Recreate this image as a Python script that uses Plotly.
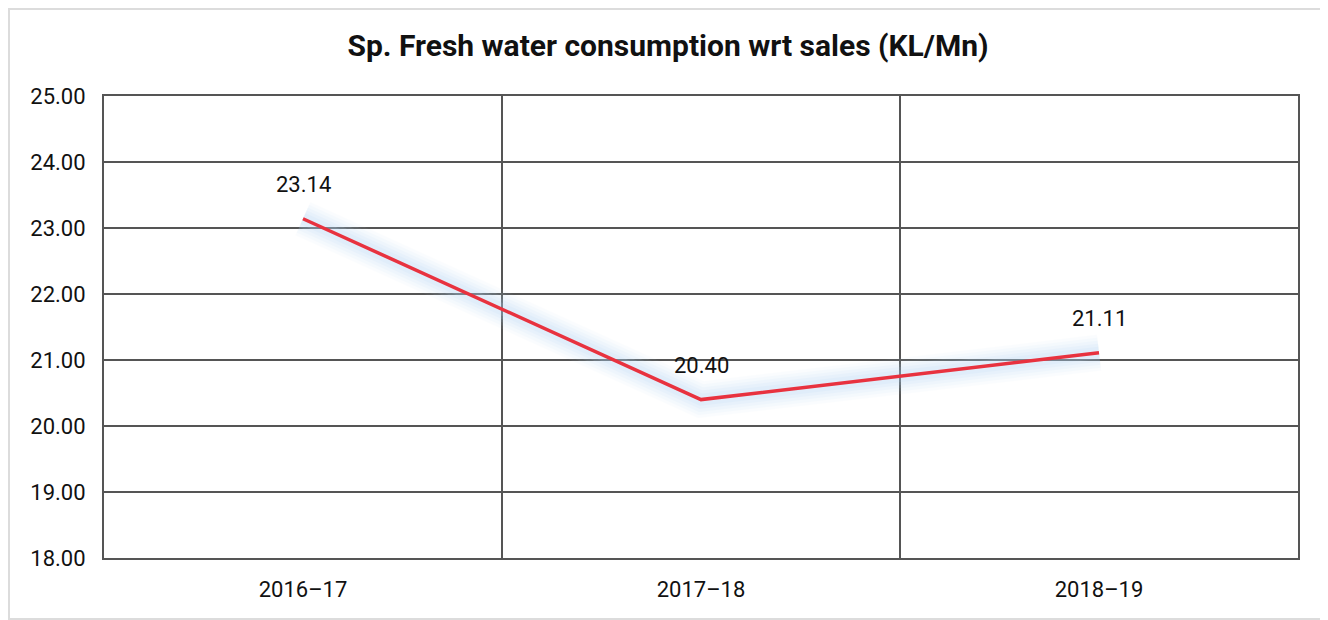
import plotly.graph_objects as go

categories = ["2016–17", "2017–18", "2018–19"]
values = [23.14, 20.40, 21.11]
y_ticks = [18, 19, 20, 21, 22, 23, 24, 25]
title = "Sp. Fresh water consumption wrt sales (KL/Mn)"

FONT = "Roboto, Liberation Sans, sans-serif"

fig = go.Figure()

# soft glow layers behind the line
for w, op in [(36, 0.05), (30, 0.07), (24, 0.09), (18, 0.11), (12, 0.13)]:
    fig.add_trace(go.Scatter(
        x=categories, y=values, mode="lines",
        line=dict(color="#b5d8f7", width=w),
        opacity=op, hoverinfo="skip", showlegend=False,
    ))

fig.add_trace(go.Scatter(
    x=categories, y=values, mode="lines",
    line=dict(color="#e8323f", width=3.5),
    showlegend=False,
))

for c, v in zip(categories, values):
    fig.add_annotation(x=c, y=v, text=f"{v:.2f}", showarrow=False,
                       yshift=34, font=dict(size=22, color="#111", family=FONT))

W, H = 1320, 612
L, R, T, B = 96, 30, 88, 62
PW, PH = W - L - R, H - T - B

fig.update_layout(
    width=W, height=H,
    margin=dict(l=L, r=R, t=T, b=B),
    paper_bgcolor="white", plot_bgcolor="white",
    title=dict(text=f"<b>{title}</b>", x=0.5, xanchor="center", y=1 - 37 / H, yanchor="middle",
               font=dict(size=30, color="#111", family=FONT)),
    font=dict(family=FONT, color="#111", size=22),
)

fig.update_xaxes(
    type="category", tickson="boundaries", range=[-0.5, 2.5],
    showgrid=True, gridcolor="#555", gridwidth=1.5,
    showline=True, linecolor="#555", linewidth=2, mirror=True,
    ticks="", tickfont=dict(size=22, color="#111", family=FONT),
    ticklabelstandoff=11,
)
fig.update_yaxes(
    range=[18, 25], tickvals=y_ticks, tickformat=".2f",
    showgrid=True, gridcolor="#555", gridwidth=1.5,
    showline=True, linecolor="#555", linewidth=2, mirror=True,
    zeroline=False, ticks="", tickfont=dict(size=22, color="#111", family=FONT),
    ticklabelstandoff=12,
)

fig.add_shape(type="rect", xref="paper", yref="paper",
              x0=-(L - 1) / PW, x1=1 + 27 / PW, y0=-(B - 1) / PH, y1=1 + (T - 1) / PH,
              line=dict(color="#dcdcdc", width=2), layer="below")

fig.write_html("out.html")
